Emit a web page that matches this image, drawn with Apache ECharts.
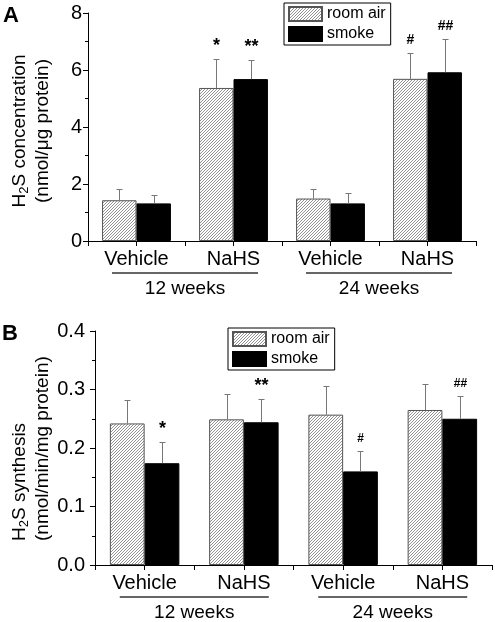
<!DOCTYPE html>
<html><head><meta charset="utf-8">
<script src="https://cdn.jsdelivr.net/npm/echarts@6/dist/echarts.min.js"></script>
<style>html,body{margin:0;padding:0;background:#fff}#c{width:495px;height:622px}</style>
</head><body><div id="c"></div>
<script>
// ---------- data ----------
const categories = ['Vehicle', 'NaHS', 'Vehicle', 'NaHS'];
const groups = ['12 weeks', '24 weeks'];
const seriesNames = ['room air', 'smoke'];

// Panel A: H2S concentration (nmol/µg protein)
const concAir = [1.43, 5.37, 1.49, 5.69];
const concAirErr = [0.41, 1.02, 0.35, 0.91];
const concSmoke = [1.32, 5.68, 1.32, 5.92];
const concSmokeErr = [0.31, 0.68, 0.38, 1.18];
const concAirSig = ['', '*', '', '#'];
const concSmokeSig = ['', '**', '', '##'];
const concAxis = [0, 8, 2];      // min, max, interval

// Panel B: H2S synthesis (nmol/min/mg protein)
const synAir = [0.242, 0.249, 0.257, 0.265];
const synAirErr = [0.040, 0.044, 0.049, 0.045];
const synSmoke = [0.174, 0.244, 0.160, 0.250];
const synSmokeErr = [0.037, 0.039, 0.035, 0.039];
const synAirSig = ['', '', '', ''];
const synSmokeSig = ['*', '**', '#', '##'];
const synAxis = [0, 0.4, 0.1];

// ---------- styling ----------
const FONT = 'Liberation Sans, Arial, sans-serif';
function hatch() {
  const n = 3;
  const c = document.createElement('canvas');
  c.width = n; c.height = n;
  const g = c.getContext('2d');
  g.fillStyle = '#fff'; g.fillRect(0, 0, n, n);
  g.strokeStyle = '#888'; g.lineWidth = 0.9;
  g.beginPath();
  g.moveTo(0, n); g.lineTo(n, 0);
  g.moveTo(-1, 1); g.lineTo(1, -1);
  g.moveTo(n - 1, n + 1); g.lineTo(n + 1, n - 1);
  g.stroke();
  return c;
}
const hatchFill = { image: hatch(), repeat: 'repeat' };

const panels = [
  { rect: { left: 88, top: 13, width: 388, height: 228 }, gap: 0.29,
    air: concAir, airErr: concAirErr, smoke: concSmoke, smokeErr: concSmokeErr,
    airSig: concAirSig, smokeSig: concSmokeSig, axis: concAxis, labelMargin: 6, dec: 0,
    hashSize: 14 },
  { rect: { left: 95, top: 331, width: 397, height: 234 }, gap: 0.30,
    air: synAir, airErr: synAirErr, smoke: synSmoke, smokeErr: synSmokeErr,
    airSig: synAirSig, smokeSig: synSmokeSig, axis: synAxis, labelMargin: 10, dec: 1,
    hashSize: 12 }
];

function errRender(side, gapRatio, sigs, hashSize) {
  return function (params, api) {
    const i = api.value(0), v = api.value(1), e = api.value(2);
    const base = api.coord([i, v]);
    const top = api.coord([i, v + e]);
    const band = api.size([1, 0])[0];
    const bw = band * (1 - gapRatio) / 2;
    const x = Math.round(base[0] + side * bw / 2) + 0.5;
    const ty = Math.round(top[1]) + 0.5;
    const children = [
      { type: 'line', shape: { x1: x, y1: base[1], x2: x, y2: ty }, style: { stroke: '#777', lineWidth: 1 } },
      { type: 'line', shape: { x1: x - 3, y1: ty, x2: x + 3, y2: ty }, style: { stroke: '#777', lineWidth: 1 } }
    ];
    const s = sigs[params.dataIndex];
    if (s) {
      const star = s.indexOf('*') >= 0;
      children.push({ type: 'text', x: x, y: ty - 13,
        style: { text: s, align: 'center', verticalAlign: 'middle',
          font: 'bold ' + (star ? 18 : hashSize) + 'px ' + FONT, fill: '#000' } });
    }
    return { type: 'group', children: children };
  };
}

const grid = [], xAxis = [], yAxis = [], series = [];
panels.forEach((p, k) => {
  const g0 = grid.length;
  for (let j = 0; j < 3; j++) grid.push(Object.assign({ containLabel: false }, p.rect));
  // main axes
  xAxis.push({ type: 'category', gridIndex: g0, data: categories,
    axisLine: { lineStyle: { color: '#000', width: 1 } }, axisTick: { show: false },
    axisLabel: { fontSize: 20, color: '#000', margin: 8, fontFamily: FONT } });
  yAxis.push({ type: 'value', gridIndex: g0, min: p.axis[0], max: p.axis[1], interval: p.axis[2],
    axisLine: { show: true, lineStyle: { color: '#000', width: 1 } },
    axisTick: { show: true, length: 5, lineStyle: { color: '#000' } },
    minorTick: { show: true, splitNumber: 2, length: 3, lineStyle: { color: '#000' } },
    splitLine: { show: false },
    axisLabel: { fontSize: 20, color: '#000', margin: p.labelMargin, fontFamily: FONT,
      formatter: v => v.toFixed(p.dec) } });
  // group axis
  const lineLen = Math.round(p.rect.width / 2 * 0.75);
  xAxis.push({ type: 'category', gridIndex: g0 + 1, data: groups,
    axisLine: { show: false }, axisTick: { show: false },
    axisLabel: { margin: 30, formatter: v => '{l| }\n{t|' + v + '}',
      rich: { l: { width: lineLen, height: 1.5, lineHeight: 4, backgroundColor: '#333' },
              t: { fontSize: 19, lineHeight: 27, color: '#000', fontFamily: FONT } } } });
  yAxis.push({ type: 'value', gridIndex: g0 + 1, show: false, min: 0, max: 1 });
  // tick axis (ticks at category edges and centres)
  xAxis.push({ type: 'value', gridIndex: g0 + 2, min: 0, max: 2 * categories.length, interval: 1,
    axisLine: { show: false }, axisLabel: { show: false }, splitLine: { show: false },
    axisTick: { show: true, length: 5, lineStyle: { color: '#000' } } });
  yAxis.push({ type: 'value', gridIndex: g0 + 2, show: false, min: 0, max: 1 });

  const xi = 3 * k, yi = 3 * k;
  series.push({ type: 'bar', name: seriesNames[0], xAxisIndex: xi, yAxisIndex: yi, data: p.air,
    barGap: '0%', barCategoryGap: (p.gap * 100) + '%',
    itemStyle: { color: hatchFill, borderColor: '#555', borderWidth: 1 } });
  series.push({ type: 'bar', name: seriesNames[1], xAxisIndex: xi, yAxisIndex: yi, data: p.smoke,
    barGap: '0%', barCategoryGap: (p.gap * 100) + '%',
    itemStyle: { color: '#000', borderColor: '#000', borderWidth: 1 } });
  series.push({ type: 'custom', xAxisIndex: xi, yAxisIndex: yi, z: 5,
    data: p.air.map((v, i) => [i, v, p.airErr[i]]),
    renderItem: errRender(-1, p.gap, p.airSig, p.hashSize) });
  series.push({ type: 'custom', xAxisIndex: xi, yAxisIndex: yi, z: 5,
    data: p.smoke.map((v, i) => [i, v, p.smokeErr[i]]),
    renderItem: errRender(1, p.gap, p.smokeSig, p.hashSize) });
});

const legendBase = { data: seriesNames, orient: 'vertical', itemWidth: 33, itemHeight: 14, itemGap: 4,
  padding: [3, 5, 3, 4], borderColor: '#000', borderWidth: 1, icon: 'rect',
  textStyle: { fontSize: 16, color: '#000', fontFamily: FONT } };

const option = {
  animation: false,
  textStyle: { fontFamily: FONT },
  grid: grid, xAxis: xAxis, yAxis: yAxis, series: series,
  legend: [
    Object.assign({ left: 284, top: 3 }, legendBase),
    Object.assign({ left: 228, top: 328 }, legendBase)
  ],
  graphic: [
    { type: 'text', x: 3, y: 5, style: { text: 'A', font: 'bold 22px ' + FONT, fill: '#000' } },
    { type: 'text', x: 2, y: 323, style: { text: 'B', font: 'bold 22px ' + FONT, fill: '#000' } },
    { type: 'text', x: 31, y: 131, rotation: Math.PI / 2,
      style: { text: '{a|H}{s|2}{a|S concentration}\n{a|(nmol/\u03bcg protein)}',
        align: 'center', verticalAlign: 'middle', fill: '#000',
        rich: { a: { fontSize: 19, lineHeight: 23, fontFamily: FONT, fill: '#000' },
                s: { fontSize: 13, lineHeight: 12, verticalAlign: 'bottom', fontFamily: FONT, fill: '#000' } } } },
    { type: 'text', x: 31, y: 541, rotation: Math.PI / 2,
      style: { text: '{a|H}{s|2}{a|S synthesis}\n{a|(nmol/min/mg protein)}',
        align: 'left', verticalAlign: 'middle', fill: '#000',
        rich: { a: { fontSize: 19, lineHeight: 23, fontFamily: FONT, fill: '#000' },
                s: { fontSize: 13, lineHeight: 12, verticalAlign: 'bottom', fontFamily: FONT, fill: '#000' } } } }
  ]
};
const chart = echarts.init(document.getElementById('c'), null, { renderer: 'canvas' });
chart.setOption(option);
</script></body></html>
